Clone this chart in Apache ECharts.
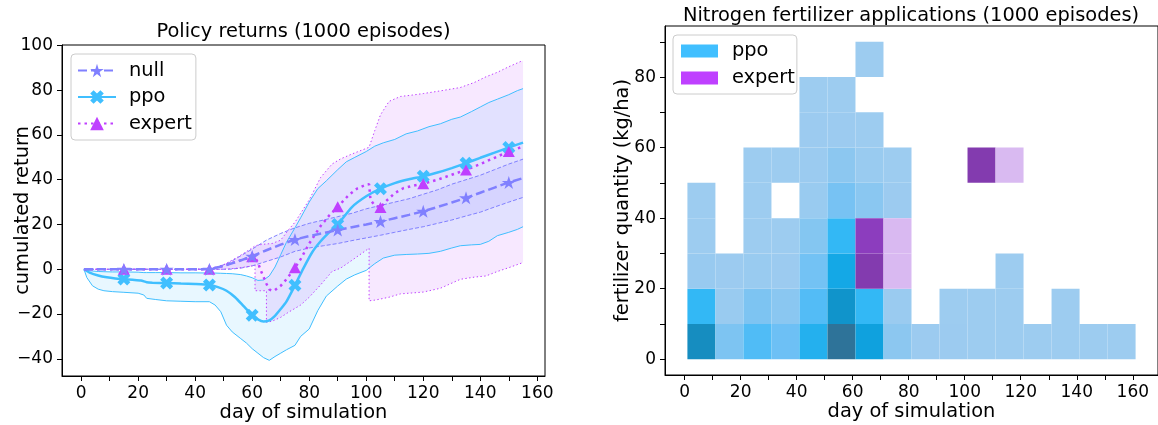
<!DOCTYPE html>
<html>
<head>
<meta charset="utf-8">
<script src="https://cdn.jsdelivr.net/npm/echarts@6/dist/echarts.min.js"></script>
<style>
  html, body { margin: 0; padding: 0; background: #ffffff; }
  #chart { width: 1158px; height: 425px; }
</style>
</head>
<body>
<div id="chart"></div>
<script>
// ---------- Policy returns: cumulated return over the season (1000 episodes) ----------
const markerDays = [15, 30, 45, 60, 75, 90, 105, 120, 135, 150];

// null policy (no fertilizer)
const nullMeanDays = [1, 15, 30, 45, 50, 55, 60, 65, 70, 75, 80, 85, 90, 95, 100, 105, 110, 115, 120, 125, 130, 135, 140, 145, 150, 155];
const nullMean = [0, 0, 0, 0, 1.5, 3.5, 5.8, 8.5, 11, 13.3, 14.8, 16.2, 17.5, 18.8, 20, 21.3, 22.8, 24.3, 25.9, 27.8, 29.8, 31.9, 34.2, 36.5, 38.8, 40.7];
const nullBandDays = [1, 10, 20, 30, 40, 45, 48, 52, 56, 60, 65, 70, 75, 80, 85, 90, 95, 100, 105, 110, 115, 120, 125, 130, 135, 140, 145, 150, 155];
const nullUpper = [0, 0, 0, 0, 0, 0, 1, 3, 6, 9, 13, 16, 18.5, 20.5, 22, 23.5, 25, 27, 28.5, 30, 31.5, 33.5, 35.5, 38, 40, 42, 44.5, 47, 49.2];
const nullLower = [0, 0, 0, 0, 0, 0, 0, 0, 0.5, 1.5, 3.5, 5.5, 8, 9.5, 10.5, 11.5, 12.8, 14, 15.2, 16.5, 17.8, 19, 20.5, 22, 23.8, 25.5, 27.8, 30, 32.1];

// ppo agent
const ppoMeanDays = [1, 3, 6, 9, 12, 15, 18, 21, 23, 25, 30, 35, 40, 45, 48, 51, 54, 57, 60, 62, 64, 66, 68, 70, 72, 75, 78, 81, 84, 87, 90, 95, 100, 105, 110, 115, 120, 125, 130, 135, 140, 145, 150, 155];
const ppoMean = [0, -1.5, -2.8, -3.6, -4.1, -4.4, -4.7, -5.0, -5.8, -6.0, -6.2, -6.4, -6.6, -7.0, -8.0, -9.6, -12.5, -16.5, -20.5, -22.4, -23.3, -22.8, -20.8, -17.8, -14.5, -7.2, 0.5, 7.5, 12.5, 16.5, 20, 27.8, 32.6, 36, 38.5, 40.2, 41.5, 43.2, 45.2, 47.4, 49.8, 52.1, 54.4, 56.6];
const ppoBandDays = [1, 2, 4, 6, 8, 11, 15, 20, 22, 23, 26, 30, 35, 40, 45, 47, 49, 51, 53, 56, 58, 60, 62, 64, 66, 68, 70, 72, 75, 77, 80, 83, 86, 90, 93, 96, 100, 103, 106, 110, 114, 118, 122, 126, 130, 133, 137, 140, 143, 146, 150, 153, 155];
const ppoUpper = [0, -0.5, -0.8, -1.0, -1.1, -1.2, -1.2, -1.3, -1.5, -1.5, -1.5, -1.5, -1.6, -1.6, -1.7, -1.7, -1.8, -1.9, -2.0, -2.4, -3.0, -3.8, -5.0, -4.8, -3.0, 1.0, 6.5, 12, 18.5, 23, 30, 36, 39.5, 44.5, 48, 50, 52.6, 55, 56.5, 58, 60.5, 61.8, 63.7, 65, 67, 68, 70.5, 72.5, 74.5, 76, 78, 79.8, 80.7];
const ppoLower = [0, -3.7, -7.4, -8.9, -9.6, -10, -10.3, -10.7, -11.5, -13, -13.5, -14.1, -14.3, -14.5, -14.5, -16, -19, -25, -28, -31, -33, -35.5, -37.5, -39.5, -40.7, -39, -37.5, -36, -34, -30, -26.7, -18.5, -12, -7.5, -4.4, -2.5, -0.5, 2.5, 5, 6.3, 6.6, 6.8, 7.1, 8, 9.5, 10.5, 10.9, 11.1, 12.5, 15, 16.5, 17.8, 19];

// expert rule
const expertMeanDays = [1, 15, 30, 45, 48, 51, 54, 57, 60, 61, 62, 63, 64, 65, 66, 67, 68, 70, 72, 74, 75, 77, 80, 84, 87, 90, 94, 97, 100, 101, 101.5, 103, 105, 107, 110, 113, 116, 120, 125, 130, 135, 140, 145, 150, 155];
const expertMean = [0, 0, 0, 0, 0.8, 2, 3.2, 4.4, 5.6, 5.5, 3, -0.5, -3.5, -6.5, -9, -9.6, -9.3, -7.4, -4.5, -1.2, 0.7, 4.5, 11.5, 19.3, 24, 27.9, 33.3, 36.2, 37.8, 38, 31, 28.5, 27.6, 30.5, 34, 36.2, 37.2, 38.2, 40, 42.2, 44.4, 47, 49.8, 52.6, 54.8];
const expertBandDays = [1, 45, 50, 55, 60, 61, 61, 63, 65, 65, 67, 70, 73, 75, 77, 80, 84, 88, 91, 95, 101, 101, 103, 105, 108, 112, 116, 120, 126, 133, 138, 142, 146, 150, 155];
const expertUpper = [0, 0, 2, 5.5, 9.5, 10.5, 10.5, 11, 11.3, 11.3, 11.5, 13, 18, 21, 25, 31, 41, 47, 49.3, 51.5, 54.5, 54.5, 62, 69, 75, 77.2, 77.8, 78.5, 79.7, 81.2, 83.5, 86, 88, 90.5, 93.3];
const expertLower = [0, 0, 0, 0.5, 1.5, 1.8, -9.6, -9.6, -9.6, -23.7, -23.2, -21.5, -19, -17.5, -16, -12.5, -7, -1, 0.5, 4, 9.4, -14.1, -13.8, -13.3, -12.5, -11, -10.6, -10.2, -8.5, -4.5, -3.5, -3, -1, 0.7, 3];

// axis ticks
const returnDayTicks = [0, 10, 20, 30, 40, 50, 60, 70, 80, 90, 100, 110, 120, 130, 140, 150, 160];
const returnDayLabels = [0, 20, 40, 60, 80, 100, 120, 140, 160];
const returnTicks = [-40, -20, 0, 20, 40, 60, 80, 100];

// ---------- Nitrogen fertilizer applications: counts per (day, quantity) bin ----------
const dayBinStarts = [1, 11, 21, 31, 41, 51, 61, 71, 81, 91, 101, 111, 121, 131, 141, 151];
const kgBinStarts = [0, 10, 20, 30, 40, 50, 60, 70, 80];
// rows follow kgBinStarts, columns follow dayBinStarts
const ppoCounts = [
  [240, 60, 120, 90, 165, 300, 195, 35, 4, 4, 3, 3, 2, 2, 2, 2],
  [150, 10, 60, 38, 117, 225, 150, 8, 0, 2, 2, 2, 0, 2, 0, 0],
  [12, 5, 10, 4, 78, 180, 0, 0, 0, 0, 0, 2, 0, 0, 0, 0],
  [2, 0, 2, 3, 48, 150, 0, 0, 0, 0, 0, 0, 0, 0, 0, 0],
  [2, 0, 2, 0, 10, 72, 38, 4, 0, 0, 0, 0, 0, 0, 0, 0],
  [0, 0, 2, 2, 7, 35, 10, 2, 0, 0, 0, 0, 0, 0, 0, 0],
  [0, 0, 0, 0, 4, 4, 2, 0, 0, 0, 0, 0, 0, 0, 0, 0],
  [0, 0, 0, 0, 2, 2, 0, 0, 0, 0, 0, 0, 0, 0, 0, 0],
  [0, 0, 0, 0, 0, 0, 2, 0, 0, 0, 0, 0, 0, 0, 0, 0]
];
const expertCounts = [
  [0, 0, 0, 0, 0, 0, 0, 0, 0, 0, 0, 0, 0, 0, 0, 0],
  [0, 0, 0, 0, 0, 0, 0, 0, 0, 0, 0, 0, 0, 0, 0, 0],
  [0, 0, 0, 0, 0, 0, 267, 3, 0, 0, 0, 0, 0, 0, 0, 0],
  [0, 0, 0, 0, 0, 0, 237, 3, 0, 0, 0, 0, 0, 0, 0, 0],
  [0, 0, 0, 0, 0, 0, 0, 0, 0, 0, 0, 0, 0, 0, 0, 0],
  [0, 0, 0, 0, 0, 0, 0, 0, 0, 0, 267, 2, 0, 0, 0, 0],
  [0, 0, 0, 0, 0, 0, 0, 0, 0, 0, 0, 0, 0, 0, 0, 0],
  [0, 0, 0, 0, 0, 0, 0, 0, 0, 0, 0, 0, 0, 0, 0, 0],
  [0, 0, 0, 0, 0, 0, 0, 0, 0, 0, 0, 0, 0, 0, 0, 0]
];
const histDayTicks = [0, 10, 20, 30, 40, 50, 60, 70, 80, 90, 100, 110, 120, 130, 140, 150, 160];
const histDayLabels = [0, 20, 40, 60, 80, 100, 120, 140, 160];
const kgTicks = [0, 10, 20, 30, 40, 50, 60, 70, 80, 90];
const kgLabels = [0, 20, 40, 60, 80];

// ---------- styling ----------
const FONT = 'DejaVu Sans';
const C_NULL = '#8080ff';
const C_PPO = '#40bfff';
const C_EXPERT = '#bf40ff';
const BIN_DAYS = 10;
const BIN_KG = 10;
const COUNT_MAX = 300;
const PPO_RAMP = ['#9eccf0', '#8fc8f0', '#7dc4f2', '#6dc0f5', '#50bcf6', '#33b8f5', '#14a8e6', '#0a9ad6', '#168dc0', '#2280ac', '#2e7399'];
const EXPERT_RAMP = ['#d9bbf1', '#cd8df3', '#b553eb', '#8f3dc4', '#7a3a9e'];
const STAR = 'path://M0,-1L0.2245,-0.309L0.9511,-0.309L0.3633,0.118L0.5878,0.809L0,0.382L-0.5878,0.809L-0.3633,0.118L-0.9511,-0.309L-0.2245,-0.309Z';
const CROSS = 'path://M-1,-0.5L-0.5,-1L0,-0.5L0.5,-1L1,-0.5L0.5,0L1,0.5L0.5,1L0,0.5L-0.5,1L-1,0.5L-0.5,0Z';
const histNames = { 'ppo-hist': 'ppo', 'expert-hist': 'expert' };

const minusFmt = v => (v < 0 ? '\u2212' + Math.abs(v) : String(v));

function pairs(days, vals) {
  return days.map((d, i) => [d, vals[i]]);
}
function meanData(days, vals) {
  return days.map((d, i) => markerDays.includes(d) ? [d, vals[i]] : { value: [d, vals[i]], symbol: 'none' });
}
function bandRows(days, lower, upper) {
  return days.map((d, i) => [d, lower[i], upper[i]]);
}
function cells(counts) {
  const out = [];
  counts.forEach((row, r) => row.forEach((c, k) => {
    if (c > 0) out.push([dayBinStarts[k], kgBinStarts[r], c]);
  }));
  return out;
}

// filled spread between lower and upper curve, built from every row of the series
function renderBand(params, api) {
  if (params.dataIndexInside !== 0) return null;
  const n = params.dataInsideLength;
  const top = [];
  const bottom = [];
  for (let i = 0; i < n; i++) {
    const d = api.value(0, i);
    top.push(api.coord([d, api.value(2, i)]));
    bottom.push(api.coord([d, api.value(1, i)]));
  }
  return {
    type: 'polygon',
    shape: { points: top.concat(bottom.reverse()) },
    style: { fill: api.visual('color') }
  };
}

// one histogram bin
function renderCell(params, api) {
  const x0 = api.value(0);
  const y0 = api.value(1);
  const p0 = api.coord([x0, y0]);
  const p1 = api.coord([x0 + BIN_DAYS, y0 + BIN_KG]);
  return {
    type: 'rect',
    shape: { x: p0[0], y: p1[1], width: p1[0] - p0[0], height: p0[1] - p1[1] },
    style: { fill: api.visual('color') }
  };
}

function bandSeries(name, rows, fill) {
  return {
    name, type: 'custom', coordinateSystem: 'cartesian2d', xAxisIndex: 0, yAxisIndex: 0,
    renderItem: renderBand, data: rows, encode: { x: 0, y: [1, 2] },
    itemStyle: { color: fill }, silent: true, z: 1
  };
}
function edgeSeries(name, data, color, type) {
  return {
    name, type: 'line', xAxisIndex: 0, yAxisIndex: 0, data, showSymbol: false, symbol: 'none',
    lineStyle: { color, width: 1, type }, silent: true, z: 2
  };
}
function meanSeries(name, data, color, type, symbol, symbolSize, smooth) {
  return {
    name, type: 'line', xAxisIndex: 0, yAxisIndex: 0, data,
    symbol, symbolSize, showSymbol: true, showAllSymbol: true, smooth: smooth || false,
    itemStyle: { color, borderWidth: 0 },
    lineStyle: { color, width: 2.5, type }, silent: true, z: 3
  };
}

const axisLine = { show: true, onZero: false, lineStyle: { color: '#000', width: 1 } };
const tickStyle = { color: '#000', width: 1 };
const labelText = { color: '#000', fontFamily: FONT, fontSize: 17 };
const nameText = { color: '#000', fontFamily: FONT, fontSize: 19.4 };

const option = {
  animation: false,
  backgroundColor: '#ffffff',
  textStyle: { fontFamily: FONT },
  title: [
    { text: 'Policy returns (1000 episodes)', left: 303.5, top: 22, textAlign: 'center', padding: 0,
      textStyle: { fontFamily: FONT, fontSize: 19.4, fontWeight: 'normal', color: '#000' } },
    { text: 'Nitrogen fertilizer applications (1000 episodes)', left: 911, top: 6, textAlign: 'center', padding: 0,
      textStyle: { fontFamily: FONT, fontSize: 19.4, fontWeight: 'normal', color: '#000' } }
  ],
  grid: [
    { left: 62, top: 45, width: 483, height: 331, show: true, borderColor: '#000', borderWidth: 1, outerBoundsMode: 'none' },
    { left: 665, top: 26, width: 493, height: 349, show: true, borderColor: '#000', borderWidth: 1, outerBoundsMode: 'none' }
  ],
  xAxis: [
    { type: 'value', gridIndex: 0, min: -6.7, max: 162.7, axisLine,
      axisTick: { show: true, length: 5, customValues: returnDayTicks, lineStyle: tickStyle },
      axisLabel: Object.assign({ customValues: returnDayLabels, margin: 9, formatter: minusFmt }, labelText),
      splitLine: { show: false },
      name: 'day of simulation', nameLocation: 'middle', nameGap: 27, nameMoveOverlap: false, nameTextStyle: nameText },
    { type: 'value', gridIndex: 1, min: -7, max: 169, axisLine,
      axisTick: { show: true, length: 5, customValues: histDayTicks, lineStyle: tickStyle },
      axisLabel: Object.assign({ customValues: histDayLabels, margin: 9 }, labelText),
      splitLine: { show: false },
      name: 'day of simulation', nameLocation: 'middle', nameGap: 27, nameMoveOverlap: false, nameTextStyle: nameText }
  ],
  yAxis: [
    { type: 'value', gridIndex: 0, min: -47.7, max: 100.2, axisLine,
      axisTick: { show: true, length: 5, customValues: returnTicks, lineStyle: tickStyle },
      axisLabel: Object.assign({ customValues: returnTicks, margin: 9, formatter: minusFmt }, labelText),
      splitLine: { show: false },
      name: 'cumulated return', nameLocation: 'middle', nameRotate: 90, nameGap: 30, nameMoveOverlap: false, nameTextStyle: nameText },
    { type: 'value', gridIndex: 1, min: -4.5, max: 94.5, axisLine,
      axisTick: { show: true, length: 5, customValues: kgTicks, lineStyle: tickStyle },
      axisLabel: Object.assign({ customValues: kgLabels, margin: 9 }, labelText),
      splitLine: { show: false },
      name: 'fertilizer quantity (kg/ha)', nameLocation: 'middle', nameRotate: 90, nameGap: 33, nameMoveOverlap: false, nameTextStyle: nameText }
  ],
  legend: [
    { data: ['null', 'ppo', 'expert'], orient: 'vertical', left: 71, top: 54,
      itemWidth: 38, itemHeight: 17, itemGap: 4.5, padding: [5.5, 4, 5.5, 6],
      backgroundColor: 'rgba(255,255,255,0.8)', borderColor: '#cccccc', borderWidth: 1, borderRadius: 4,
      textStyle: { fontFamily: FONT, fontSize: 19.4, color: '#000', lineHeight: 22, padding: [0, 0, 0, 8] },
      selectedMode: false },
    { data: ['ppo-hist', 'expert-hist'], formatter: n => histNames[n], orient: 'vertical', left: 673, top: 35,
      icon: 'rect', itemWidth: 37, itemHeight: 13, itemGap: 5, padding: [5, 2, 5, 8],
      backgroundColor: 'rgba(255,255,255,0.8)', borderColor: '#cccccc', borderWidth: 1, borderRadius: 4,
      textStyle: { fontFamily: FONT, fontSize: 19.4, color: '#000', lineHeight: 22, padding: [0, 0, 0, 9] },
      selectedMode: false }
  ],
  visualMap: [
    { type: 'continuous', show: false, seriesIndex: 12, dimension: 2, min: 0, max: COUNT_MAX, inRange: { color: PPO_RAMP } },
    { type: 'continuous', show: false, seriesIndex: 13, dimension: 2, min: 0, max: COUNT_MAX, inRange: { color: EXPERT_RAMP } }
  ],
  series: [
    bandSeries('null-spread', bandRows(nullBandDays, nullLower, nullUpper), 'rgba(128,128,255,0.12)'),
    bandSeries('ppo-spread', bandRows(ppoBandDays, ppoLower, ppoUpper), 'rgba(64,191,255,0.12)'),
    bandSeries('expert-spread', bandRows(expertBandDays, expertLower, expertUpper), 'rgba(191,64,255,0.12)'),
    edgeSeries('null-lower', pairs(nullBandDays, nullLower), C_NULL, [4, 2]),
    edgeSeries('null-upper', pairs(nullBandDays, nullUpper), C_NULL, [4, 2]),
    edgeSeries('ppo-lower', pairs(ppoBandDays, ppoLower), C_PPO, 'solid'),
    edgeSeries('ppo-upper', pairs(ppoBandDays, ppoUpper), C_PPO, 'solid'),
    edgeSeries('expert-lower', pairs(expertBandDays, expertLower), C_EXPERT, [1.4, 2.4]),
    edgeSeries('expert-upper', pairs(expertBandDays, expertUpper), C_EXPERT, [1.4, 2.4]),
    meanSeries('ppo', meanData(ppoMeanDays, ppoMean), C_PPO, 'solid', CROSS, 13, 0.2),
    meanSeries('expert', meanData(expertMeanDays, expertMean), C_EXPERT, [2.5, 4], 'triangle', [12, 11]),
    meanSeries('null', meanData(nullMeanDays, nullMean), C_NULL, [9, 4], STAR, [14, 13]),
    { name: 'ppo-hist', type: 'custom', coordinateSystem: 'cartesian2d', xAxisIndex: 1, yAxisIndex: 1,
      renderItem: renderCell, data: cells(ppoCounts), encode: { x: 0, y: 1 },
      itemStyle: { color: C_PPO }, silent: true },
    { name: 'expert-hist', type: 'custom', coordinateSystem: 'cartesian2d', xAxisIndex: 1, yAxisIndex: 1,
      renderItem: renderCell, data: cells(expertCounts), encode: { x: 0, y: 1 },
      itemStyle: { color: C_EXPERT }, silent: true }
  ]
};

const chart = echarts.init(document.getElementById('chart'), null, { renderer: 'canvas' });
chart.setOption(option);
</script>
</body>
</html>
